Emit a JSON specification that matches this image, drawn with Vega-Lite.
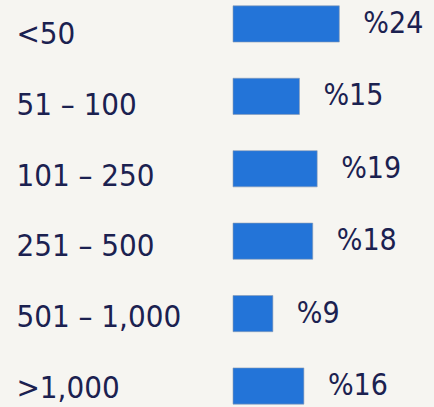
{
  "$schema": "https://vega.github.io/schema/vega-lite/v6.json",
  "width": 201,
  "height": 407,
  "autosize": {"type": "none"},
  "padding": {"left": 233, "top": 0, "right": 0, "bottom": 0},
  "background": "#f6f5f1",
  "config": {"view": {"stroke": null}},
  "data": {
    "values": [
      {"size": "<50", "pct": 24, "label": "%24"},
      {"size": "51 – 100", "pct": 15, "label": "%15"},
      {"size": "101 – 250", "pct": 19, "label": "%19"},
      {"size": "251 – 500", "pct": 18, "label": "%18"},
      {"size": "501 – 1,000", "pct": 9, "label": "%9"},
      {"size": ">1,000", "pct": 16, "label": "%16"}
    ]
  },
  "layer": [
    {
      "mark": {"type": "text", "text": ""},
      "encoding": {
        "y": {
          "field": "size", "type": "nominal", "sort": null,
          "scale": {"type": "point", "padding": 0.378, "align": 0.65},
          "axis": {
            "orient": "left", "title": null, "domain": false, "ticks": false, "tickSize": 0,
            "labelAlign": "left", "labelBaseline": "middle", "labelPadding": 217,
            "labelFont": "DejaVu Sans Condensed", "labelFontSize": 31,
            "labelColor": "#1b2150", "labelLimit": 0
          }
        }
      }
    },
    {
      "encoding": {
        "y": {
          "field": "size", "type": "nominal", "sort": null,
          "scale": {"paddingInner": 0.5, "paddingOuter": 0.06, "align": 0.67},
          "axis": null
        },
        "x": {"field": "pct", "type": "quantitative", "scale": {"domain": [0, 45.37]}, "axis": null}
      },
      "layer": [
        {"mark": {"type": "bar", "color": "#2374d8", "stroke": "#8a9ab4", "strokeWidth": 0.6}},
        {
          "mark": {
            "type": "text", "align": "left", "baseline": "middle", "dx": 24,
            "font": "DejaVu Sans Condensed", "fontSize": 30, "color": "#1b2150"
          },
          "encoding": {"text": {"field": "label"}}
        }
      ]
    }
  ],
  "resolve": {"scale": {"y": "independent"}, "axis": {"y": "independent"}}
}
